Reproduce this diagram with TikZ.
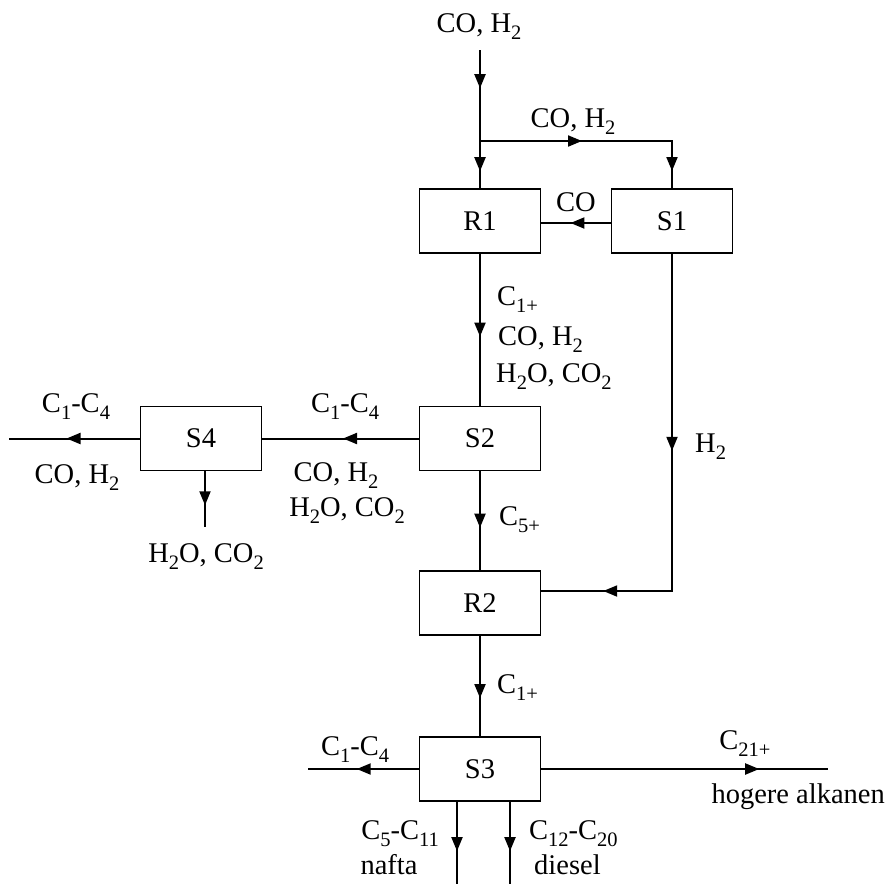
\documentclass[tikz,border=0pt]{standalone}
\usepackage{fontspec}
\setmainfont{Liberation Serif}
\usetikzlibrary{arrows.meta,decorations.markings,calc}
\newcommand\sbs[1]{\raisebox{-0.28em}{\fontsize{20.5}{21}\selectfont #1}}
\tikzset{
  unit/.style={draw,line width=1.6pt,minimum width=121pt,minimum height=64pt,inner sep=0pt,font=\fontsize{28.5}{30}\selectfont},
  lbl/.style={inner sep=0pt,anchor=base,font=\fontsize{28.5}{30}\selectfont},
  lblw/.style={lbl,anchor=base west},
  flow/.style={line width=2pt},
  tipat/.style={postaction={decorate,decoration={markings,mark=at position #1 with {\arrow{Triangle[length=14pt,width=11pt]}}}}},
}
\begin{document}
\begin{tikzpicture}[x=1pt,y=-1pt]
\useasboundingbox (0,0) rectangle (885,884);
% units
\node[unit] (R1) at (480,221) {R1};
\node[unit] (S1) at (672,221) {S1};
\node[unit] (S2) at (480,438.5) {S2};
\node[unit] (S4) at (201,438.5) {S4};
\node[unit] (R2) at (480,603) {R2};
\node[unit] (S3) at (480,769) {S3};
% free ends
\coordinate (top) at (480,50);
\coordinate (br) at (480,141);
\coordinate (o4l) at (9,438.5);
\coordinate (o4d) at (205,527);
\coordinate (o3l) at (308,769);
\coordinate (o3r) at (828,769);
\coordinate (o3a) at (457,884);
\coordinate (o3b) at (510,884);
% connectors
\draw[flow,tipat=0.42] (top) -- (br);
\draw[flow,tipat=0.64] (br) -- (R1.north);
\draw[flow,tipat=102pt,tipat=222pt] (br) -| (S1.north);
\draw[flow,tipat=0.58] ([yshift=-2pt]S1.west) -- ([yshift=-2pt]R1.east);
\draw[flow,tipat=0.545] (R1.south) -- (S2.north);
\draw[flow,tipat=197pt,tipat=406pt] (S1.south) |- ([yshift=12pt]R2.east);
\draw[flow,tipat=0.484] (S2.west) -- (S4.east);
\draw[flow,tipat=0.56] (S4.west) -- (o4l);
\draw[flow,tipat=0.61] (S4.south -| o4d) -- (o4d);
\draw[flow,tipat=0.57] (S2.south) -- (R2.north);
\draw[flow,tipat=0.62] (R2.south) -- (S3.north);
\draw[flow,tipat=0.56] (S3.west) -- (o3l);
\draw[flow,tipat=0.76] (S3.east) -- (o3r);
\draw[flow,tipat=0.6] (S3.south -| o3a) -- (o3a);
\draw[flow,tipat=0.6] (S3.south -| o3b) -- (o3b);
% labels
\node[lbl] (l1) at (479,32) {CO, H\sbs{2}};
\node[lbl] (l2) at (573,127) {CO, H\sbs{2}};
\node[lbl] (l3) at (576,211) {CO};
\node[lblw] (l4) at (497,305) {C\sbs{1+}};
\node[lblw] (l5) at (498,345) {CO, H\sbs{2}};
\node[lblw] (l6) at (496,382) {H\sbs{2}O, CO\sbs{2}};
\node[lblw] (l7) at (695,452) {H\sbs{2}};
\node[lbl] (l8) at (76,412) {C\sbs{1}-C\sbs{4}};
\node[lbl] (l9) at (77,483) {CO, H\sbs{2}};
\node[lbl] (l10) at (345,412) {C\sbs{1}-C\sbs{4}};
\node[lbl] (l11) at (336,481) {CO, H\sbs{2}};
\node[lbl] (l12) at (347,516) {H\sbs{2}O, CO\sbs{2}};
\node[lbl] (l13) at (206,562) {H\sbs{2}O, CO\sbs{2}};
\node[lblw] (l14) at (499,525) {C\sbs{5+}};
\node[lblw] (l15) at (497,693) {C\sbs{1+}};
\node[lbl] (l16) at (355,755) {C\sbs{1}-C\sbs{4}};
\node[lbl] (l17) at (745,749) {C\sbs{21+}};
\node[lbl,anchor=base east] (l18) at (885,803) {hogere alkanen};
\node[lbl] (l19) at (400,839) {C\sbs{5}-C\sbs{11}};
\node[lbl] (l20) at (389,874) {nafta};
\node[lblw] (l21) at (529,839) {C\sbs{12}-C\sbs{20}};
\node[lblw] (l22) at (534,874) {diesel};
\end{tikzpicture}
\end{document}
